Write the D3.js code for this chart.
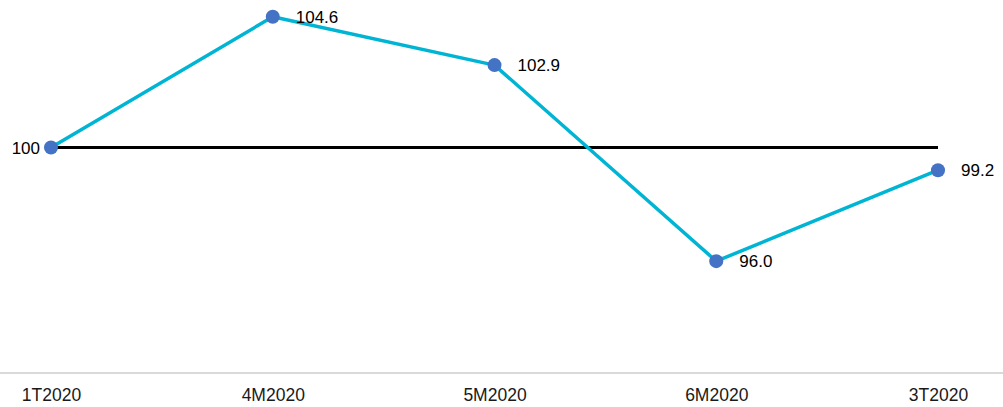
<!DOCTYPE html>
<html>
<head>
<meta charset="utf-8">
<script src="https://cdn.jsdelivr.net/npm/d3@7"></script>
<style>
  html, body { margin: 0; padding: 0; background: #fff; }
  svg { display: block; font-family: "Liberation Sans", Arial, sans-serif; }
</style>
</head>
<body>
<svg id="chart" width="1003" height="407"></svg>
<script>
// Index values by period (base 1T2020 = 100)
const categories = ["1T2020", "4M2020", "5M2020", "6M2020", "3T2020"];
const values = [100, 104.6, 102.9, 96.0, 99.2];
const valueLabels = ["100", "104.6", "102.9", "96.0", "99.2"];
const baseValue = 100;

const svg = d3.select("#chart");
const W = 1003, H = 407;

const x = d3.scalePoint().domain(categories).range([51, 938]);
const y = d3.scaleLinear().domain([94, 106]).range([318, -23]);

const axisY = 373;

// Light baseline under the plot
svg.append("line")
  .attr("x1", 0).attr("x2", W)
  .attr("y1", axisY).attr("y2", axisY)
  .attr("stroke", "#d9d9d9").attr("stroke-width", 2);

// Category labels
const xAxis = d3.axisBottom(x).tickSize(0).tickPadding(0);
const gx = svg.append("g").attr("transform", `translate(0,${axisY})`).call(xAxis);
gx.select(".domain").remove();
gx.selectAll("text")
  .attr("y", 28)
  .attr("dy", 0)
  .style("font-size", "17.5px")
  .style("font-family", "'Liberation Sans', Arial, sans-serif")
  .attr("fill", "#1a1a1a");

// Reference line at the base value
svg.append("line")
  .attr("x1", x(categories[0])).attr("x2", x(categories[categories.length - 1]))
  .attr("y1", y(baseValue)).attr("y2", y(baseValue))
  .attr("stroke", "#000").attr("stroke-width", 3);

// Series line
const data = categories.map((c, i) => ({ c, v: values[i], label: valueLabels[i] }));
svg.append("path")
  .datum(data)
  .attr("fill", "none")
  .attr("stroke", "#00B4D4")
  .attr("stroke-width", 3.5)
  .attr("stroke-linejoin", "round")
  .attr("d", d3.line().x(d => x(d.c)).y(d => y(d.v)));

// Markers
svg.selectAll("circle.pt")
  .data(data)
  .join("circle")
  .attr("class", "pt")
  .attr("cx", d => x(d.c))
  .attr("cy", d => y(d.v))
  .attr("r", 7)
  .attr("fill", "#4472C4");

// Value labels: first one to the left, the rest to the right
svg.selectAll("text.val")
  .data(data)
  .join("text")
  .attr("class", "val")
  .attr("x", (d, i) => i === 0 ? x(d.c) - 11 : x(d.c) + 23)
  .attr("y", d => y(d.v) + 6)
  .attr("text-anchor", (d, i) => i === 0 ? "end" : "start")
  .style("font-size", "17px")
  .attr("fill", "#000")
  .text(d => d.label);
</script>
</body>
</html>
